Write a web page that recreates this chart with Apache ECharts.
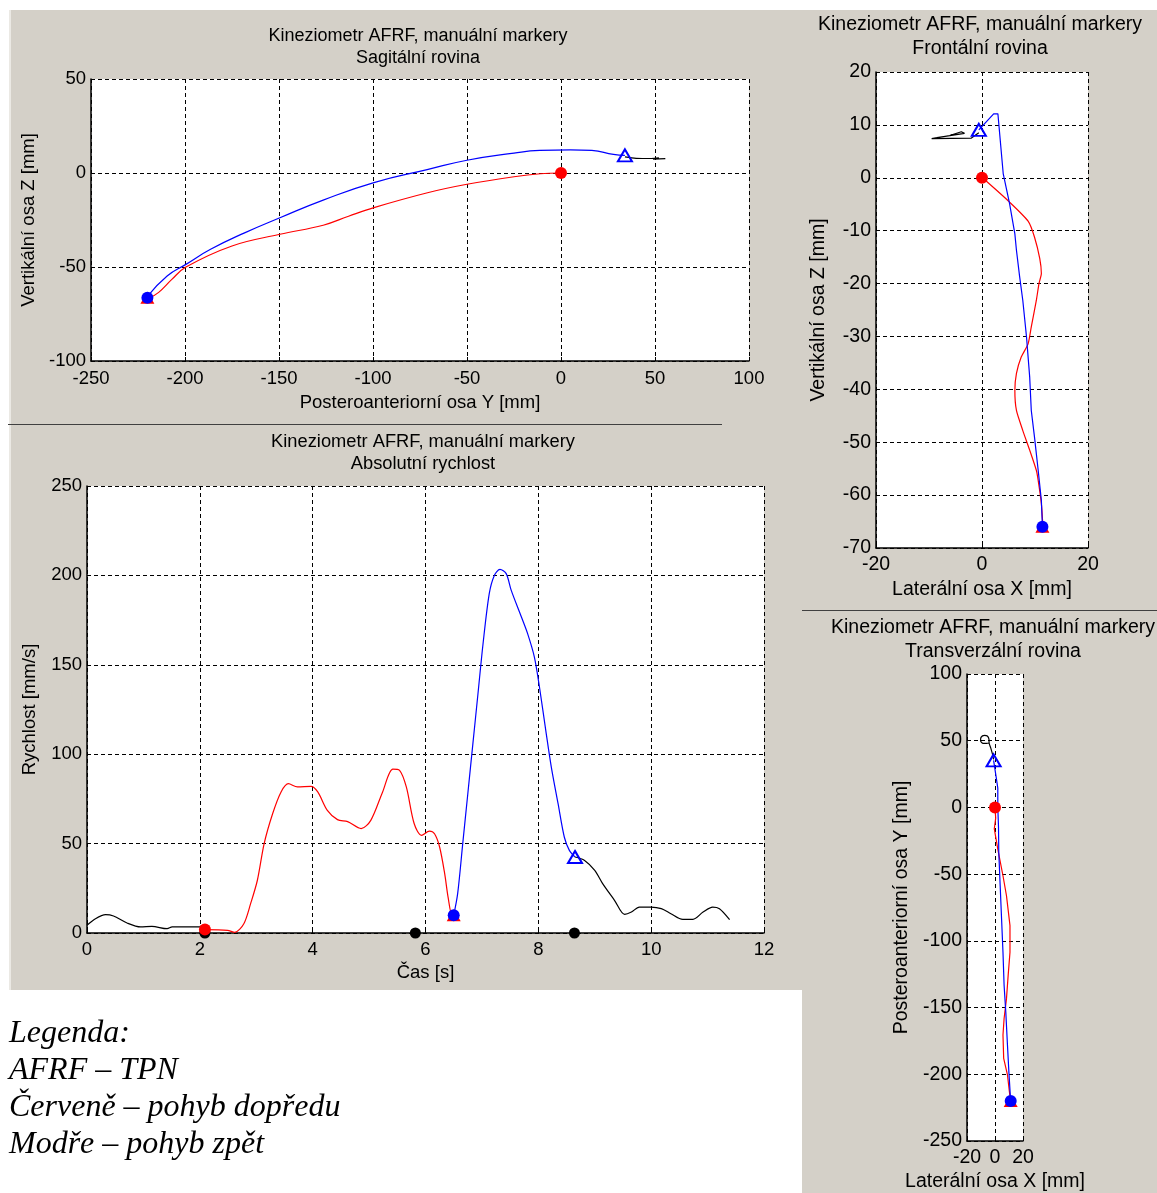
<!DOCTYPE html>
<html>
<head>
<meta charset="utf-8">
<script src="https://cdn.jsdelivr.net/npm/echarts@6.0.0/dist/echarts.min.js"></script>
<style>
html, body { margin: 0; padding: 0; background: #fff; }
#main { width: 1157px; height: 1193px; }
</style>
</head>
<body>
<div id="main"></div>
<script>
// sagitalni rovina: [Y, Z] v mm
var sagRed = [[0,0],[-11,-0.4],[-25,-2],[-50,-6],[-71,-10.5],[-99.5,-18.4],[-113,-23],[-126.5,-27.8],[-149.5,-32.6],[-175,-38.8],[-199.5,-50],[-207,-56.6],[-214,-63.5],[-219,-66.5]];
var sagBlue = [[-220.3,-66],[-209.5,-54.8],[-199.5,-48.6],[-186.4,-40.6],[-168,-31.7],[-149.5,-23.8],[-126.5,-14.4],[-99.5,-5.1],[-71.2,1.8],[-50,6.8],[-25,10.6],[-11.3,12],[5,12.3],[16.4,12],[27.9,9.9],[34,9.4]];
var sagBlack = [[34,8.6],[40,7.8],[48,7.7],[52,8.1],[49,7.4],[55.5,7.6]];
var sagMarks = [[0,0],[-220,-66.3],[34,9.4]];

// frontalni rovina: [X, Z]
var frontRed = [[0,0],[1.1,-0.9],[5.2,-4.6],[8.7,-8.2],[9.9,-11.2],[10.9,-15.3],[11.2,-18.1],[10.75,-20],[10.25,-23.2],[9.3,-28.2],[8.7,-31.4],[7.4,-33.9],[6.5,-37],[6.2,-40.2],[6.5,-44],[7.7,-47.8],[9.0,-51.5],[10.25,-55.3],[10.6,-57.2],[11.2,-61.6],[11.5,-66]];
var frontBlue = [[11.4,-66],[11.2,-61],[10.6,-55.3],[9.9,-49],[9.3,-44],[9.0,-37.7],[8.4,-30.1],[7.7,-23.2],[7.1,-18.7],[6.5,-13.7],[6.2,-10.6],[5.2,-4.9],[4.0,0.8],[3.0,12.1],[2.2,12.1],[-0.6,9.05]];
var frontBlack = [[-0.6,8.5],[-2,7.5],[-9.5,7.4],[-6.1,8],[-3.9,8.7],[-3.3,8.4],[-8.5,7.6]];
var frontMarks = [[0,0],[11.4,-66],[-0.6,9.05]];

// transverzalni rovina: [X, Y]
var transRed = [[0,0],[0.5,-8],[-0.5,-16],[2,-31.3],[5.7,-51.2],[8.2,-66.2],[10.7,-88.6],[10.7,-108.5],[9.4,-125.9],[8.2,-143.3],[6.5,-158.2],[5.7,-170.6],[6.2,-188],[8.9,-200.5],[10.7,-216.7],[11.2,-220]];
var transBlue = [[11.2,-220.4],[9.9,-198],[8.9,-178],[7.7,-153.2],[6.5,-133.3],[5.7,-108.5],[4.7,-83.6],[3.7,-58.7],[2.7,-33.8],[2.5,-14.25],[2,0],[2,14.5],[0.75,23.25],[-1,35.3]];
var transBlack = [[-1,36],[-1.7,39.5],[-3,44.5],[-4.2,48.3],[-4.3,51],[-5.5,53.5],[-7.5,54],[-10,52.5],[-10.3,50],[-8.5,48],[-6,48],[-4.2,48.3]];
var transMarks = [[0,0],[11.2,-220],[-1,35.3]];

// absolutni rychlost: [cas s, rychlost mm/s]
var velBlack1 = [[0,4.3],[0.15,8],[0.33,10.25],[0.47,9.5],[0.71,5.6],[0.95,3.4],[1.15,3.7],[1.42,2.4],[1.51,3.4],[2,3.4],[2.09,2]];
var velRed = [[2.09,1.9],[2.49,1.5],[2.62,0.4],[2.78,5.2],[2.9,16.4],[3.02,29.5],[3.14,50],[3.29,66.7],[3.44,78.9],[3.57,83.5],[3.73,81.7],[3.97,82],[4.09,78.9],[4.26,68.6],[4.44,63.4],[4.62,62.3],[4.86,58.4],[5.03,63],[5.24,78.9],[5.42,91.7],[5.54,91],[5.66,81.7],[5.8,61.1],[5.93,54.6],[6.07,57],[6.16,55.5],[6.25,48.1],[6.34,33.2],[6.4,20.1],[6.47,9.9],[6.5,9.9]];
var velBlue = [[6.5,9.9],[6.57,22],[6.66,50],[6.75,77.9],[6.84,105.9],[6.93,133.8],[7.02,161.8],[7.13,189.8],[7.22,200],[7.32,203.4],[7.43,201],[7.52,191.6],[7.7,176.7],[7.81,167.4],[7.93,154.3],[8.02,137.6],[8.14,111.5],[8.23,92.8],[8.35,72.3],[8.46,53.7],[8.55,46.2],[8.65,42.5]];
var velBlack2 = [[8.65,42.5],[8.82,40.6],[9,35],[9.14,27.6],[9.35,18.3],[9.53,10.4],[9.65,11.7],[9.79,14.5],[10,14.5],[10.18,13.6],[10.35,10.8],[10.56,7.6],[10.74,7.6],[10.92,11.7],[11.09,14.5],[11.21,13.6],[11.39,7.5]];
var velZeros = [[2.09,0],[5.82,0],[8.64,0]];
var velMarks = [[2.09,1.9],[6.5,9.9],[8.65,42.5]];

var titleTop = 'Kineziometr AFRF, manuální markery';
var legendLines = ['Legenda:', 'AFRF – TPN', 'Červeně – pohyb dopředu', 'Modře – pohyb zpět'];

var FONT = 'Liberation Sans';
var GRAY = '#d4d0c8';

var chart = echarts.init(document.getElementById('main'));

function gridBox(l, t, w, h) {
    return {left: l, top: t, width: w, height: h, show: true, backgroundColor: '#fff', borderWidth: 0};
}

function axisCfg(o) {
    return {
        type: 'value', gridIndex: o.grid, min: o.min, max: o.max, interval: o.step,
        name: o.name, nameLocation: 'middle', nameGap: o.gap,
        nameTextStyle: {color: '#000', fontSize: o.fs, fontFamily: FONT},
        axisLine: {show: true, onZero: false, lineStyle: {color: '#000', width: 1.5}},
        axisTick: {show: true, inside: true, length: 4, lineStyle: {color: '#000'}},
        axisLabel: {color: '#000', fontSize: o.fs, fontFamily: FONT, margin: o.margin, showMinLabel: true, showMaxLabel: true},
        splitLine: {show: true, lineStyle: {color: '#000', type: [4, 3], width: 1}}
    };
}

function path(data, color, gi, smooth) {
    return {
        type: 'line', xAxisIndex: gi, yAxisIndex: gi, data: data,
        showSymbol: false, symbol: 'none', smooth: smooth || false,
        lineStyle: {color: color, width: 1.2}, silent: true, z: 3
    };
}

function dot(pts, gi, sym, size, fill, stroke, z) {
    return {
        type: 'scatter', xAxisIndex: gi, yAxisIndex: gi, data: pts, clip: false,
        symbol: sym, symbolSize: size, silent: true, z: z,
        itemStyle: {color: fill, opacity: 1, borderColor: stroke || fill, borderWidth: stroke ? 2 : 0}
    };
}

function marks(m, gi) {
    return [
        dot([m[1]], gi, 'triangle', [14, 12], '#ff0000', null, 4),
        dot([m[1]], gi, 'circle', 12, '#0000ff', null, 5),
        dot([m[0]], gi, 'circle', 12, '#ff0000', null, 5),
        dot([m[2]], gi, 'triangle', [14, 12], 'rgba(0,0,0,0)', '#0000ff', 5)
    ];
}

var series = [].concat(
    [path(sagBlack, '#000', 0, 0.3), path(sagRed, '#ff0000', 0, 0.4), path(sagBlue, '#0000ff', 0, 0.5)],
    marks(sagMarks, 0),
    [path(frontBlack, '#000', 1), path(frontRed, '#ff0000', 1, 0.2), path(frontBlue, '#0000ff', 1)],
    marks(frontMarks, 1),
    [path(velBlack1, '#000', 2, 0.3), path(velBlack2, '#000', 2, 0.3), path(velRed, '#ff0000', 2, 0.3), path(velBlue, '#0000ff', 2, 0.3)],
    [dot(velZeros, 2, 'circle', 11, '#000', null, 4)],
    marks(velMarks, 2),
    [path(transBlack, '#000', 3, 0.3), path(transRed, '#ff0000', 3), path(transBlue, '#0000ff', 3)],
    marks(transMarks, 3)
);

function titleText(x, y, txt, fs) {
    return {type: 'text', x: x, y: y, silent: true,
        style: {text: txt, fill: '#000', font: fs + 'px "' + FONT + '"', align: 'center', verticalAlign: 'middle'}};
}

var graphics = [
    {type: 'rect', shape: {x: 0, y: 0, width: 1157, height: 10}, style: {fill: '#fff'}},
    {type: 'rect', shape: {x: 0, y: 0, width: 9, height: 1193}, style: {fill: '#fff'}},
    {type: 'rect', shape: {x: 9, y: 10, width: 2, height: 980}, style: {fill: '#ebe9e4'}},
    {type: 'rect', shape: {x: 0, y: 990, width: 802, height: 203}, style: {fill: '#fff'}},
    {type: 'line', shape: {x1: 8, y1: 424.5, x2: 722, y2: 424.5}, style: {stroke: '#404040', lineWidth: 1}},
    {type: 'line', shape: {x1: 802, y1: 610.5, x2: 1157, y2: 610.5}, style: {stroke: '#404040', lineWidth: 1}},
    titleText(418, 36, titleTop, 18), titleText(418, 58, 'Sagitální rovina', 18),
    titleText(980, 25, titleTop, 19.5), titleText(980, 49, 'Frontální rovina', 19.5),
    titleText(423, 442, titleTop, 18.3), titleText(423, 464, 'Absolutní rychlost', 18.3),
    titleText(993, 628, titleTop, 19.5), titleText(993, 652, 'Transverzální rovina', 19.5)
];
legendLines.forEach(function(t, i) {
    graphics.push({type: 'text', x: 9, y: 1034 + i * 37, silent: true,
        style: {text: t, fill: '#000', font: 'italic 32px "Liberation Serif"', align: 'left', verticalAlign: 'middle'}});
});

chart.setOption({
    animation: false,
    backgroundColor: GRAY,
    grid: [
        gridBox(91, 79, 658, 282),
        gridBox(876, 72, 212, 476),
        gridBox(87, 486, 677, 447),
        gridBox(967, 674, 56, 469)
    ],
    xAxis: [
        axisCfg({grid: 0, min: -250, max: 100, step: 50, name: 'Posteroanteriorní osa Y [mm]', gap: 32, fs: 18.5, margin: 8}),
        axisCfg({grid: 1, min: -20, max: 20, step: 20, name: 'Laterální osa X [mm]', gap: 32, fs: 19.5, margin: 7}),
        axisCfg({grid: 2, min: 0, max: 12, step: 2, name: 'Čas [s]', gap: 30, fs: 18.5, margin: 7}),
        axisCfg({grid: 3, min: -20, max: 20, step: 20, name: 'Laterální osa X [mm]', gap: 31, fs: 19.5, margin: 7})
    ],
    yAxis: [
        axisCfg({grid: 0, min: -100, max: 50, step: 50, name: 'Vertikální osa Z [mm]', gap: 52, fs: 18.5, margin: 5}),
        axisCfg({grid: 1, min: -70, max: 20, step: 10, name: 'Vertikální osa Z [mm]', gap: 47, fs: 19.5, margin: 5}),
        axisCfg({grid: 2, min: 0, max: 250, step: 50, name: 'Rychlost [mm/s]', gap: 48, fs: 18.5, margin: 5}),
        axisCfg({grid: 3, min: -250, max: 100, step: 50, name: 'Posteroanteriorní osa Y [mm]', gap: 55, fs: 19.5, margin: 5})
    ],
    graphic: graphics,
    series: series
});
</script>
</body>
</html>
